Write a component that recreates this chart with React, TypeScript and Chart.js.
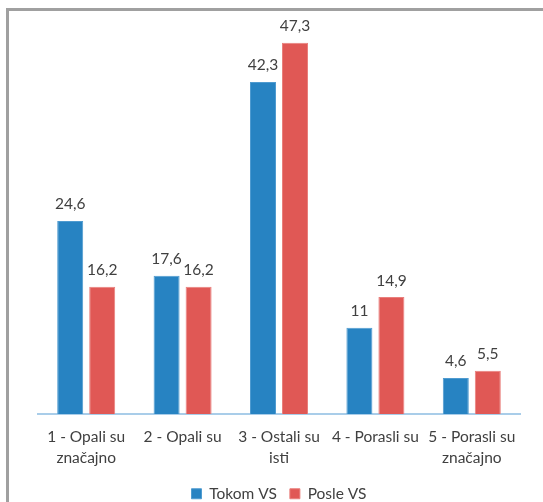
import React, { useEffect, useRef } from "react";
import { Chart, registerables } from "chart.js";

Chart.register(...registerables);

const categories: string[][] = [
  ["1 - Opali su", "značajno"],
  ["2 - Opali su"],
  ["3 - Ostali su", "isti"],
  ["4 - Porasli su"],
  ["5 - Porasli su", "značajno"],
];
const tokomVS = [24.6, 17.6, 42.3, 11, 4.6];
const posleVS = [16.2, 16.2, 47.3, 14.9, 5.5];
const seriesNames = ["Tokom VS", "Posle VS"];

const FONT = "Lato, 'Open Sans', sans-serif";

const valueLabels = {
  id: "valueLabels",
  afterDatasetsDraw(chart: any) {
    const ctx = chart.ctx;
    ctx.save();
    ctx.font = `15.5px ${FONT}`;
    ctx.fillStyle = "#404040";
    ctx.textAlign = "center";
    ctx.textBaseline = "middle";
    chart.data.datasets.forEach((ds: any, i: number) => {
      const meta = chart.getDatasetMeta(i);
      meta.data.forEach((bar: any, j: number) => {
        const v = ds.data[j];
        ctx.fillText(String(v).replace(".", ","), bar.x, bar.y - 16.5);
      });
    });
    ctx.restore();
  },
};

const legendHeight = {
  id: "legendHeight",
  beforeInit(chart: any) {
    const legend = chart.legend;
    if (!legend) return;
    const orig = legend.fit;
    legend.fit = function () {
      orig.call(this);
      this.height = 29;
    };
  },
};

export default function App() {
  const ref = useRef<HTMLCanvasElement>(null);
  useEffect(() => {
    if (!ref.current) return;
    const chart = new Chart(ref.current, {
      type: "bar",
      data: {
        labels: categories,
        datasets: [
          {
            label: seriesNames[0],
            data: tokomVS,
            backgroundColor: "#2783c2",
            borderColor: "#4f9bd0",
            borderWidth: 1,
            barPercentage: 0.8125,
            categoryPercentage: 0.664,
          },
          {
            label: seriesNames[1],
            data: posleVS,
            backgroundColor: "#e05855",
            borderColor: "#e97f7c",
            borderWidth: 1,
            barPercentage: 0.8125,
            categoryPercentage: 0.664,
          },
        ],
      },
      options: {
        animation: false,
        responsive: true,
        maintainAspectRatio: false,
        layout: { padding: { left: 38, right: 23, top: 21.5, bottom: 0 } },
        scales: {
          x: {
            grid: { display: false, drawTicks: false },
            border: { display: true, color: "#a9cde9", width: 2 },
            afterFit(scale: any) {
              scale.height = 59;
            },
            ticks: {
              padding: 12,
              color: "#404040",
              maxRotation: 0,
              autoSkip: false,
              font: { family: FONT, size: 15.5, lineHeight: "21px" },
            },
          },
          y: {
            display: false,
            min: 0,
            max: 50,
          },
        },
        plugins: {
          legend: {
            position: "bottom",
            labels: {
              boxWidth: 10,
              boxHeight: 10,
              padding: 13,
              color: "#404040",
              font: { family: FONT, size: 15.5 },
            },
          },
          tooltip: { enabled: false },
        },
      },
      plugins: [valueLabels, legendHeight],
    });
    return () => chart.destroy();
  }, []);
  return (
    <>
      <div
        style={{
          position: "fixed",
          left: 6,
          top: 8,
          width: 620,
          height: 620,
          border: "3px solid #a0a0a0",
          boxSizing: "border-box",
        }}
      />
      <div style={{ position: "fixed", left: 0, top: 0, width: 543, height: 502 }}>
        <canvas ref={ref} />
      </div>
    </>
  );
}
